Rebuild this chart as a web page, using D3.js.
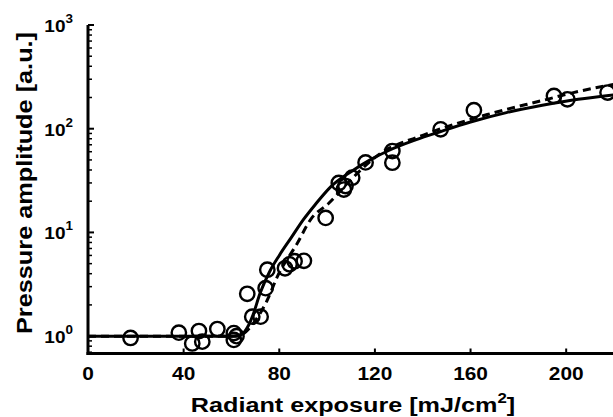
<!DOCTYPE html>
<html>
<head>
<meta charset="utf-8">
<script src="https://cdn.jsdelivr.net/npm/d3@7"></script>
<style>
  html, body { margin: 0; padding: 0; background: #fff; }
  svg { display: block; }
  text { font-family: "Liberation Sans", Arial, Helvetica, sans-serif; font-weight: bold; fill: #000; }
</style>
</head>
<body>
<svg id="chart" width="613" height="417"></svg>
<script>
// Measured pressure amplitude versus radiant exposure
const exposure = [17.8, 38.0, 43.6, 46.4, 47.8, 54.1, 61.0, 61.0, 62.1, 66.6, 68.7, 72.2, 74.3, 75.0,
  82.4, 84.3, 86.4, 90.3, 99.4, 104.9, 107.0, 107.7, 110.5, 116.1, 127.3, 127.3, 147.5, 161.4, 194.9, 200.5, 217.3];
const amplitude = [0.96, 1.08, 0.85, 1.12, 0.885, 1.17, 1.07, 0.92, 1.0, 2.56, 1.54, 1.54, 2.9, 4.37,
  4.51, 4.92, 5.27, 5.32, 13.8, 30, 25.9, 28, 33.7, 47.3, 60.9, 47, 98.6, 150.6, 207, 192, 223];

// Model curves (solid and dashed)
const solidX = [0, 60, 64, 67, 69, 72, 76, 80, 85, 90, 95, 101.5, 110, 118, 126, 137, 147.5, 160, 175, 190, 205, 220];
const solidY = [1, 1, 1.03, 1.25, 1.6, 2.6, 4.2, 6.0, 8.9, 13.2, 18.5, 27.5, 38.5, 50, 62, 78, 94, 116, 143, 168, 192, 212];
const dashX = [0, 62, 66, 68, 75, 79.2, 87.6, 93.1, 100.8, 109.8, 122.4, 139, 167, 192, 203, 220];
const dashY = [1, 1, 1.1, 1.23, 2.23, 3.75, 7.9, 13.3, 19.2, 32, 58, 84.8, 137, 192, 223, 268];

// Axis ticks
const xTickValues = [0, 40, 80, 120, 160, 200];
const yTickExponents = [0, 1, 2, 3];

const svg = d3.select("#chart");
const pLeft = 88, pRight = 614, pTop = 25, pBottom = 353.5;
const stretch = 1.16; // labels are set slightly wide

const x = d3.scaleLinear().domain([0, 220]).range([pLeft, pRight]);
const y = d3.scaleLog().domain([0.68, 1000]).range([pBottom, pTop]);

svg.append("clipPath").attr("id", "plotClip")
  .append("rect").attr("x", pLeft).attr("y", pTop).attr("width", pRight - pLeft).attr("height", pBottom - pTop);

const plot = svg.append("g").attr("clip-path", "url(#plotClip)");

const line = d3.line().x(d => x(d[0])).y(d => y(d[1])).curve(d3.curveMonotoneX);

plot.append("path")
  .datum(solidX.map((v, i) => [v, solidY[i]]))
  .attr("d", line)
  .attr("fill", "none").attr("stroke", "#000").attr("stroke-width", 3);

plot.append("path")
  .datum(dashX.map((v, i) => [v, dashY[i]]))
  .attr("d", line)
  .attr("fill", "none").attr("stroke", "#000").attr("stroke-width", 3)
  .attr("stroke-dasharray", "8,5");

svg.append("g").selectAll("circle")
  .data(exposure.map((v, i) => [v, amplitude[i]]))
  .join("circle")
  .attr("cx", d => x(d[0])).attr("cy", d => y(d[1])).attr("r", 7.2)
  .attr("fill", "none").attr("stroke", "#000").attr("stroke-width", 2.4);

// Axes: inward ticks, minor ticks on the log axis
const axisG = svg.append("g");
const minorVals = [];
for (let e = -1; e < 3; e++) {
  for (let m = 2; m <= 9; m++) {
    const v = m * Math.pow(10, e);
    if (v >= 0.68 && v <= 1000) minorVals.push(v);
  }
}
axisG.selectAll("line.ymin").data(minorVals).join("line")
  .attr("x1", pLeft).attr("x2", pLeft + 4)
  .attr("y1", d => y(d)).attr("y2", d => y(d))
  .attr("stroke", "#000").attr("stroke-width", 1.5);
axisG.selectAll("line.ymaj").data(yTickExponents).join("line")
  .attr("x1", pLeft).attr("x2", pLeft + 6)
  .attr("y1", d => y(Math.pow(10, d))).attr("y2", d => y(Math.pow(10, d)))
  .attr("stroke", "#000").attr("stroke-width", 2);
axisG.selectAll("line.xmaj").data(xTickValues.filter(d => d > 0)).join("line")
  .attr("x1", d => x(d)).attr("x2", d => x(d))
  .attr("y1", pBottom).attr("y2", pBottom - 5)
  .attr("stroke", "#000").attr("stroke-width", 2);

axisG.append("line").attr("x1", pLeft).attr("x2", pLeft).attr("y1", pTop).attr("y2", pBottom + 1.5)
  .attr("stroke", "#000").attr("stroke-width", 3);
axisG.append("line").attr("x1", pLeft - 1.5).attr("x2", 613).attr("y1", pBottom).attr("y2", pBottom)
  .attr("stroke", "#000").attr("stroke-width", 3);

// Tick labels
svg.append("g").selectAll("text").data(xTickValues).join("text")
  .attr("transform", d => `translate(${x(d)},380) scale(${stretch},1)`)
  .attr("text-anchor", "middle").style("font-size", "18px")
  .text(d => d);

const yl = svg.append("g").selectAll("text").data(yTickExponents).join("text")
  .attr("transform", d => `translate(73,${y(Math.pow(10, d)) + 7}) scale(1.12,1)`)
  .attr("text-anchor", "end").style("font-size", "17px");
yl.append("tspan").text("10");
yl.append("tspan").attr("dy", -9).style("font-size", "12px").text(d => d);

// Axis titles
const xt = svg.append("text")
  .attr("transform", "translate(353,412) scale(1.2,1)")
  .attr("text-anchor", "middle").style("font-size", "21px");
xt.append("tspan").text("Radiant exposure [mJ/cm");
xt.append("tspan").attr("dy", -9).style("font-size", "14px").text("2");
xt.append("tspan").attr("dy", 9).text("]");

svg.append("text")
  .attr("transform", "translate(32,183) rotate(-90) scale(1.15,1)")
  .attr("text-anchor", "middle").style("font-size", "22px")
  .text("Pressure amplitude [a.u.]");
</script>
</body>
</html>
